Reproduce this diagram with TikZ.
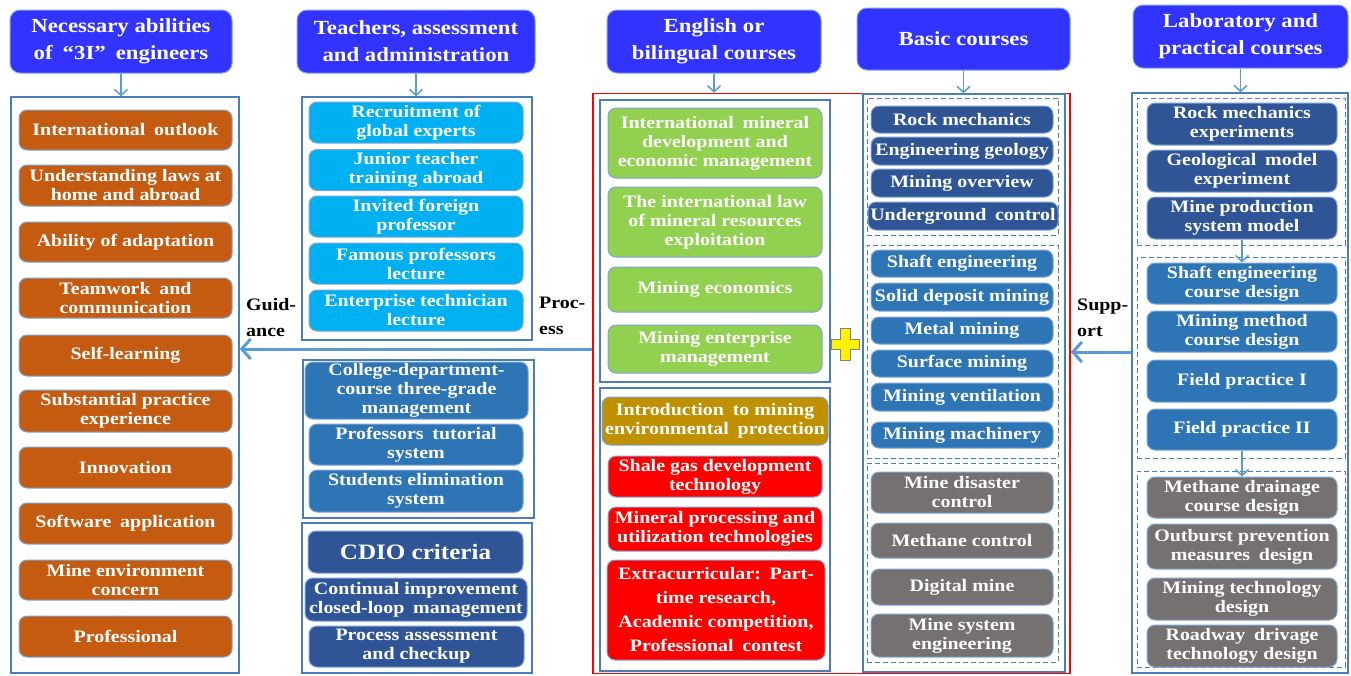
\documentclass[tikz,border=0pt]{standalone}
\usepackage{fontspec}
\setmainfont{Liberation Serif}[FakeStretch=1.14]
\usetikzlibrary{arrows.meta}

\definecolor{headblue}{RGB}{51,51,255}
\definecolor{orangebox}{RGB}{197,90,17}
\definecolor{cyanbox}{RGB}{0,176,240}
\definecolor{midblue}{RGB}{46,117,182}
\definecolor{darkblue}{RGB}{47,85,151}
\definecolor{greenbox}{RGB}{146,208,80}
\definecolor{goldbox}{RGB}{191,144,0}
\definecolor{graybox}{RGB}{118,113,113}
\definecolor{panelblue}{RGB}{74,126,187}
\definecolor{arrowblue}{RGB}{91,155,213}
\definecolor{edgeblue}{RGB}{125,165,215}

\newcommand\boxfont{\bfseries\fontsize{17.5}{19}\selectfont}
\newcommand\headfont{\bfseries\fontsize{20}{27}\selectfont}
\newcommand\bigfont{\bfseries\fontsize{22}{24}\selectfont}
\newcommand\notefont{\bfseries\fontsize{17.5}{26}\selectfont}

\tikzset{
  sz/.style 2 args={minimum width=#1pt, minimum height=#2pt},
  head/.style={fill=headblue, draw=edgeblue, line width=1pt, rounded corners=10pt,
    text=white, font=\headfont, align=center, inner sep=0pt},
  cbox/.style={fill=#1, draw=edgeblue, line width=1pt, rounded corners=8pt,
    text=white, font=\boxfont, align=center, inner sep=0pt},
  panel/.style={draw=panelblue, line width=1.3pt, inner sep=0pt},
  group/.style={draw=panelblue, line width=1pt, dash pattern=on 5pt off 3pt, inner sep=0pt},
  smallarrow/.style={draw=arrowblue, line width=1.5pt, -{Straight Barb[length=6pt,width=13pt]}},
  bigarrow/.style={draw=arrowblue, line width=3pt, -{Straight Barb[length=9pt,width=20pt]}},
  note/.style={font=\notefont, align=left, inner sep=0pt, anchor=west}
}

\begin{document}
\begin{tikzpicture}[x=1pt,y=-1pt]
  \useasboundingbox (0,0) rectangle (1351,675);

  % headers
  \node[head, sz={222}{63}] (h1) at (121,41.5) {Necessary abilities\\of\enspace“3I”\enspace engineers};
  \node[head, sz={238}{63}] (h2) at (416,41.5) {Teachers, assessment\\and administration};
  \node[head, sz={214}{63}] (h3) at (714,41.5) {English or\\bilingual courses};
  \node[head, sz={213}{62}] (h4) at (963.5,39) {Basic courses};
  \node[head, sz={215}{63}] (h5) at (1240.5,36.5) {Laboratory and\\practical courses};

  % outer frames
  \node[panel, sz={228}{576}] (abil) at (125,385) {};
  \node[panel, sz={230}{243}] (teach) at (417,218.5) {};
  \node[panel, sz={231}{158}] (manag) at (418.5,439) {};
  \node[panel, sz={230}{150}] (cdio) at (417,598) {};
  \node[draw=red, line width=1.6pt, inner sep=0pt, sz={477}{580}] (redbox) at (831.5,383.5) {};
  \node[panel, sz={230}{282}] (engl) at (715,241) {};
  \node[panel, sz={230}{283}] (extra) at (715,529.5) {};
  \node[panel, sz={202}{578}] (basic) at (964,383) {};
  \node[panel, sz={216}{580}] (lab) at (1240,383) {};

  % dashed groups
  \node[group, sz={191}{137}] (bg1) at (962.5,166.5) {};
  \node[group, sz={191}{213}] (bg2) at (962.5,351.5) {};
  \node[group, sz={191}{199}] (bg3) at (962.5,562.5) {};
  \node[group, sz={208}{147}] (lg1) at (1241,171.5) {};
  \node[group, sz={208}{201}] (lg2) at (1241,357.5) {};
  \node[group, sz={208}{196}] (lg3) at (1241,569) {};

  % abilities
  \node[cbox=orangebox, sz={213}{40}] (a1) at (125.5,130) {International\enspace outlook};
  \node[cbox=orangebox, sz={213}{41}] (a2) at (125.5,185.5) {Understanding laws at\\home and abroad};
  \node[cbox=orangebox, sz={213}{40}] (a3) at (125.5,242) {Ability of adaptation};
  \node[cbox=orangebox, sz={213}{40}] (a4) at (125.5,298) {Teamwork\enspace and\\communication};
  \node[cbox=orangebox, sz={213}{41}] (a5) at (125.5,355.5) {Self-learning};
  \node[cbox=orangebox, sz={213}{42}] (a6) at (125.5,411) {Substantial practice\\experience};
  \node[cbox=orangebox, sz={213}{41}] (a7) at (125.5,467.5) {Innovation};
  \node[cbox=orangebox, sz={213}{41}] (a8) at (125.5,523.5) {Software\enspace application};
  \node[cbox=orangebox, sz={213}{40}] (a9) at (125.5,580) {Mine environment\\concern};
  \node[cbox=orangebox, sz={213}{41}] (a10) at (125.5,636.5) {Professional};

  % teachers
  \node[cbox=cyanbox, sz={214}{41}] (t1) at (416,122.5) {Recruitment of\\global experts};
  \node[cbox=cyanbox, sz={214}{41}] (t2) at (416,170) {Junior teacher\\training abroad};
  \node[cbox=cyanbox, sz={214}{41}] (t3) at (416,216.5) {Invited foreign\\professor};
  \node[cbox=cyanbox, sz={214}{41}] (t4) at (416,263.5) {Famous professors\\lecture};
  \node[cbox=cyanbox, sz={214}{41}] (t5) at (416,310.5) {Enterprise technician\\lecture};

  % management
  \node[cbox=midblue, sz={223}{57}] (m1) at (416.5,390.5) {College-department-\\course three-grade\\management};
  \node[cbox=midblue, sz={214}{41}] (m2) at (416,444.5) {Professors\enspace tutorial\\system};
  \node[cbox=midblue, sz={214}{42}] (m3) at (416,491) {Students elimination\\system};

  % assessment
  \node[cbox=darkblue, sz={215}{42}, font=\bigfont] (c1) at (415.5,552) {CDIO criteria};
  \node[cbox=darkblue, sz={222}{43}] (c2) at (416,599.5) {Continual improvement\\closed-loop\enspace management};
  \node[cbox=darkblue, sz={215}{41}] (c3) at (416.5,646.5) {Process assessment\\and checkup};

  % english courses
  \node[cbox=greenbox, sz={214}{70}] (e1) at (715,143) {International\enspace mineral\\development and\\economic management};
  \node[cbox=greenbox, sz={214}{70}] (e2) at (715,222) {The international law\\of mineral resources\\exploitation};
  \node[cbox=greenbox, sz={214}{45}] (e3) at (715,289.5) {Mining economics};
  \node[cbox=greenbox, sz={214}{48}] (e4) at (715,349) {Mining enterprise\\management};

  % other courses
  \node[cbox=goldbox, sz={226}{48}] (x1) at (715,421) {Introduction\enspace to mining\\environmental\enspace protection};
  \node[cbox=red, sz={214}{41}] (x2) at (715,476.5) {Shale gas development\\technology};
  \node[cbox=red, sz={214}{44}] (x3) at (715,529) {Mineral processing and\\utilization technologies};
  \node[cbox=red, sz={218}{100}, font=\bfseries\fontsize{17.5}{24}\selectfont] (x4) at (716,610)
    {Extracurricular:\enspace Part-\\time research,\\Academic competition,\\Professional\enspace contest};

  % plus sign
  \filldraw[fill=yellow, draw=gray, line width=0.8pt]
    (840,328) -- (850,328) -- (850,339) -- (859,339) -- (859,349) -- (850,349) -- (850,360)
    -- (840,360) -- (840,349) -- (831,349) -- (831,339) -- (840,339) -- cycle;

  % basic courses
  \node[cbox=darkblue, sz={182}{27}] (b1) at (962,119.5) {Rock mechanics};
  \node[cbox=darkblue, sz={182}{28}] (b2) at (962,151) {Engineering geology};
  \node[cbox=darkblue, sz={182}{28}] (b3) at (962,183) {Mining overview};
  \node[cbox=darkblue, sz={190}{28}] (b4) at (963,216) {Underground\enspace control};
  \node[cbox=midblue, sz={182}{27}] (b5) at (962,263.5) {Shaft engineering};
  \node[cbox=midblue, sz={182}{28}] (b6) at (962,297) {Solid deposit mining};
  \node[cbox=midblue, sz={182}{27}] (b7) at (962,330.5) {Metal mining};
  \node[cbox=midblue, sz={182}{27}] (b8) at (962,363.5) {Surface mining};
  \node[cbox=midblue, sz={182}{28}] (b9) at (962,397) {Mining ventilation};
  \node[cbox=midblue, sz={182}{26}] (b10) at (962,435) {Mining machinery};
  \node[cbox=graybox, sz={182}{41}] (b11) at (962,492.5) {Mine disaster\\control};
  \node[cbox=graybox, sz={182}{35}] (b12) at (962,540.5) {Methane control};
  \node[cbox=graybox, sz={182}{36}] (b13) at (962,587) {Digital mine};
  \node[cbox=graybox, sz={182}{43}] (b14) at (962,635.5) {Mine system\\engineering};

  % lab and practice
  \node[cbox=darkblue, sz={190}{42}] (l1) at (1242,124) {Rock mechanics\\experiments};
  \node[cbox=darkblue, sz={190}{42}] (l2) at (1242,171) {Geological\enspace model\\experiment};
  \node[cbox=darkblue, sz={190}{42}] (l3) at (1242,218) {Mine production\\system model};
  \node[cbox=midblue, sz={190}{41}] (l4) at (1242,283.5) {Shaft engineering\\course design};
  \node[cbox=midblue, sz={190}{41}] (l5) at (1242,331.5) {Mining method\\course design};
  \node[cbox=midblue, sz={190}{42}] (l6) at (1242,381) {Field practice I};
  \node[cbox=midblue, sz={190}{41}] (l7) at (1242,429.5) {Field practice II};
  \node[cbox=graybox, sz={190}{41}] (l8) at (1242,497.5) {Methane drainage\\course design};
  \node[cbox=graybox, sz={190}{45}] (l9) at (1242,546.5) {Outburst prevention\\measures\enspace design};
  \node[cbox=graybox, sz={190}{42}] (l10) at (1242,599) {Mining technology\\design};
  \node[cbox=graybox, sz={190}{42}] (l11) at (1242,646) {Roadway\enspace drivage\\technology design};

  % side labels
  \node[note] (guid) at (246,318) {Guid-\\ance};
  \node[note] (proc) at (539,315.5) {Proc-\\ess};
  \node[note] (supp) at (1077,317.5) {Supp-\\ort};

  % arrows from the headers
  \draw[smallarrow] (h1.south) -- (h1.south |- abil.north);
  \draw[smallarrow] (h2.south) -- (h2.south |- teach.north);
  \draw[smallarrow] (h3.south) -- (h3.south |- redbox.north);
  \draw[smallarrow] (h4.south) -- (h4.south |- basic.north);
  \draw[smallarrow] (h5.south) -- (h5.south |- lab.north);
  \draw[smallarrow] (l3.south) -- (l4.north);
  \draw[smallarrow] (l7.south) -- (l8.north);

  % guidance and support
  \coordinate (gy) at (0,349);
  \coordinate (sy) at (0,352);
  \draw[bigarrow] (redbox.west |- gy) -- (abil.east |- gy);
  \draw[bigarrow] (lab.west |- sy) -- (redbox.east |- sy);
\end{tikzpicture}
\end{document}
